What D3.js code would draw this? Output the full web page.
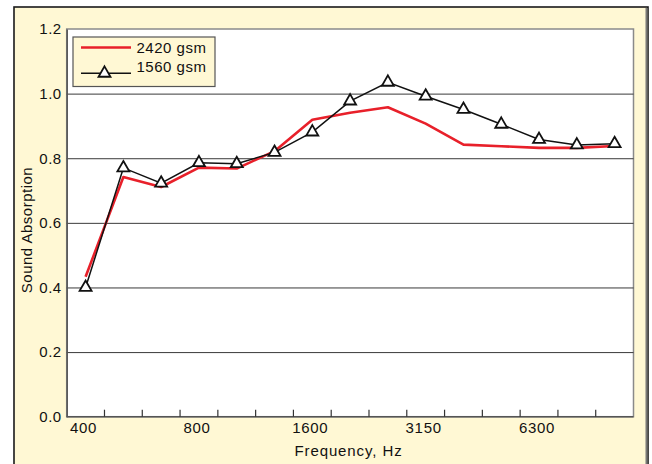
<!DOCTYPE html>
<html>
<head>
<meta charset="utf-8">
<script src="https://cdn.jsdelivr.net/npm/d3@7"></script>
<style>
  body { margin: 0; background: #fff; }
  text { font-family: "Liberation Sans", Arial, Helvetica, sans-serif; font-size: 15px; letter-spacing: 0.5px; fill: #111; }
</style>
</head>
<body>
<div id="chart"></div>
<script>
// one-third octave bands, Hz
const freqs = [400, 500, 630, 800, 1000, 1250, 1600, 2000, 2500, 3150, 4000, 5000, 6300, 8000, 10000];
const labelledFreqs = [400, 800, 1600, 3150, 6300];
const gsm2420 = [0.433, 0.742, 0.711, 0.771, 0.768, 0.822, 0.919, 0.941, 0.958, 0.907, 0.842, 0.837, 0.832, 0.832, 0.838];
const gsm1560 = [0.400, 0.770, 0.723, 0.786, 0.783, 0.818, 0.881, 0.977, 1.035, 0.992, 0.951, 0.905, 0.858, 0.841, 0.845];
const yTicks = [0, 0.2, 0.4, 0.6, 0.8, 1.0, 1.2];
const seriesNames = ["2420 gsm", "1560 gsm"];

const width = 652, height = 464;
const plot = { left: 66.7, top: 29, right: 633.5, bottom: 416.7 };

const svg = d3.select("#chart").append("svg")
    .attr("width", width)
    .attr("height", height);

// outer cream frame
svg.append("rect")
    .attr("x", 14).attr("y", 7)
    .attr("width", 634).attr("height", 470)
    .attr("fill", "#fff8d4")
    .attr("stroke", "#1a1a1a")
    .attr("stroke-width", 1.6);
svg.append("line")
    .attr("x1", 646.5).attr("x2", 646.5).attr("y1", 8).attr("y2", 464)
    .attr("stroke", "#777").attr("stroke-width", 2);

const x = d3.scaleBand().domain(freqs).range([plot.left, plot.right]).padding(0);
const y = d3.scaleLinear().domain([0, 1.2]).range([plot.bottom, plot.top]);
const cx = d => x(d) + x.bandwidth() / 2;

// plot area
svg.append("rect")
    .attr("x", plot.left).attr("y", plot.top)
    .attr("width", plot.right - plot.left).attr("height", plot.bottom - plot.top)
    .attr("fill", "#fff")
    .attr("stroke", "#8a8a8a")
    .attr("stroke-width", 1.5);

// gridlines
svg.append("g")
    .attr("transform", `translate(${plot.left},0)`)
    .call(d3.axisLeft(y).tickValues(yTicks.slice(1, -1)).tickSize(-(plot.right - plot.left)).tickFormat(""))
    .call(g => g.select(".domain").remove())
    .call(g => g.selectAll("line").attr("stroke", "#3a3a3a").attr("stroke-width", 1));

// y axis
svg.append("g")
    .attr("transform", `translate(${plot.left},0)`)
    .call(d3.axisLeft(y).tickValues(yTicks).tickSize(0).tickPadding(5).tickFormat(d3.format(".1f")))
    .call(g => g.select(".domain").attr("stroke", "#555").attr("stroke-width", 1.5))
    .call(g => g.selectAll("text").style("font-size", "15px").attr("fill", "#111")
        .attr("font-family", null));

// x axis line + inner ticks at band edges
svg.append("line")
    .attr("x1", plot.left).attr("x2", plot.right)
    .attr("y1", plot.bottom).attr("y2", plot.bottom)
    .attr("stroke", "#555").attr("stroke-width", 1.5);
svg.append("g").selectAll("line")
    .data(freqs.slice(1))
    .join("line")
    .attr("x1", d => x(d)).attr("x2", d => x(d))
    .attr("y1", plot.bottom).attr("y2", plot.bottom - 7)
    .attr("stroke", "#333").attr("stroke-width", 1.2);

svg.append("g").selectAll("text")
    .data(labelledFreqs)
    .join("text")
    .attr("x", d => cx(d) - 2)
    .attr("y", 433)
    .attr("text-anchor", "middle")
    .style("letter-spacing", "0.7px")
    .text(d => d)
    .each(function() {
        const w = this.getComputedTextLength();
        const cur = +this.getAttribute("x");
        if (cur - w / 2 < plot.left) {
            d3.select(this).attr("text-anchor", "start").attr("x", plot.left);
        }
    });

// axis titles
svg.append("text")
    .attr("x", 348.5).attr("y", 456)
    .attr("text-anchor", "middle")
    .style("letter-spacing", "0.9px")
    .text("Frequency, Hz");
svg.append("text")
    .attr("transform", "translate(32,230) rotate(-90)")
    .attr("text-anchor", "middle")
    .text("Sound Absorption");

// series
const line = d3.line().x((d, i) => cx(freqs[i])).y(d => y(d));

svg.append("path")
    .datum(gsm2420)
    .attr("fill", "none")
    .attr("stroke", "#e8202a")
    .attr("stroke-width", 2.6)
    .attr("stroke-linejoin", "round")
    .attr("d", line);

svg.append("path")
    .datum(gsm1560)
    .attr("fill", "none")
    .attr("stroke", "#111")
    .attr("stroke-width", 1.5)
    .attr("d", line);

const tri = d3.symbol().type(d3.symbolTriangle).size(62);
svg.append("g").selectAll("path")
    .data(gsm1560)
    .join("path")
    .attr("transform", (d, i) => `translate(${cx(freqs[i])},${y(d)})`)
    .attr("d", tri)
    .attr("fill", "#fff")
    .attr("stroke", "#111")
    .attr("stroke-width", 1.8);

// legend
const legend = svg.append("g");
legend.append("rect")
    .attr("x", 73).attr("y", 37)
    .attr("width", 142).attr("height", 49.5)
    .attr("fill", "#fff8d4")
    .attr("stroke", "#555")
    .attr("stroke-width", 1.2);
legend.append("line")
    .attr("x1", 81).attr("x2", 131).attr("y1", 47.5).attr("y2", 47.5)
    .attr("stroke", "#e8202a").attr("stroke-width", 2.6);
legend.append("line")
    .attr("x1", 81).attr("x2", 131).attr("y1", 73.3).attr("y2", 73.3)
    .attr("stroke", "#111").attr("stroke-width", 1.5);
legend.append("path")
    .attr("transform", "translate(104.5,73.3)")
    .attr("d", tri)
    .attr("fill", "#fff")
    .attr("stroke", "#111")
    .attr("stroke-width", 1.8);
legend.selectAll("text.lab")
    .data(seriesNames)
    .join("text")
    .attr("class", "lab")
    .attr("x", 136.5)
    .attr("y", (d, i) => [53.3, 72][i])
    .text(d => d);
</script>
</body>
</html>
